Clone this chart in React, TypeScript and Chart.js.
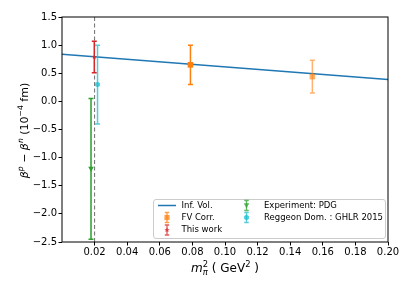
import React, { useEffect, useRef } from 'react';
import { Chart, registerables } from 'chart.js';

Chart.register(...registerables);

// ---------- data ----------
const infX = [0, 0.2];
const infY = [0.84, 0.39];

const fvX = [0.0788, 0.1536];
const fvY = [0.65, 0.44];
const fvErr = [0.35, 0.29];

const workX = [0.0198];
const workY = [0.79];
const workErr = [0.28];

const pdgX = [0.0178];
const pdgY = [-1.2];
const pdgErr = [1.25];

const ghlrX = [0.0218];
const ghlrY = [0.3];
const ghlrErr = [0.7];

const physX = 0.02;

const xTickValues = [0.02, 0.04, 0.06, 0.08, 0.1, 0.12, 0.14, 0.16, 0.18, 0.2];
const yTickValues = [-2.5, -2.0, -1.5, -1.0, -0.5, 0.0, 0.5, 1.0, 1.5];

const legendLabels = ['Inf. Vol.', 'FV Corr.', 'This work', 'Experiment: PDG', 'Reggeon Dom. : GHLR 2015'];

const BLUE = '#1f77b4';
const ORANGE = '#ff7f0e';
const GREEN = '#2ca02c';
const RED = '#d62728';
const CYAN = '#17becf';
const FONT = '"DejaVu Sans", sans-serif';

type Run = { t?: string; it?: boolean; small?: boolean; dy?: number; sup?: string; sub?: string };

function runWidth(ctx: CanvasRenderingContext2D, r: Run, size: number) {
  if (r.sup !== undefined || r.sub !== undefined) {
    ctx.font = `${size * 0.7}px ${FONT}`;
    return Math.max(ctx.measureText(r.sup || '').width, ctx.measureText(r.sub || '').width);
  }
  ctx.font = `${r.it ? 'italic ' : ''}${r.small ? size * 0.7 : size}px ${FONT}`;
  return ctx.measureText(r.t || '').width;
}

function drawRuns(ctx: CanvasRenderingContext2D, runs: Run[], cx: number, y: number, size: number) {
  let total = 0;
  for (const r of runs) total += runWidth(ctx, r, size);
  let x = cx - total / 2;
  ctx.textAlign = 'left';
  ctx.textBaseline = 'alphabetic';
  for (const r of runs) {
    const w = runWidth(ctx, r, size);
    if (r.sup !== undefined || r.sub !== undefined) {
      ctx.font = `${size * 0.7}px ${FONT}`;
      if (r.sup) ctx.fillText(r.sup, x, y - size * 0.42);
      if (r.sub) {
        ctx.font = `italic ${size * 0.7}px ${FONT}`;
        ctx.fillText(r.sub, x, y + size * 0.28);
      }
    } else {
      ctx.font = `${r.it ? 'italic ' : ''}${r.small ? size * 0.7 : size}px ${FONT}`;
      ctx.fillText(r.t || '', x, y + (r.dy || 0) * size);
    }
    x += w;
  }
}

function marker(ctx: CanvasRenderingContext2D, kind: string, x: number, y: number, r: number, color: string) {
  ctx.save();
  ctx.fillStyle = color;
  ctx.strokeStyle = color;
  ctx.beginPath();
  if (kind === 'square') {
    ctx.rect(x - r, y - r, 2 * r, 2 * r);
    ctx.fill();
  } else if (kind === 'tridown') {
    ctx.moveTo(x - r, y - r * 0.8);
    ctx.lineTo(x + r, y - r * 0.8);
    ctx.lineTo(x, y + r);
    ctx.closePath();
    ctx.fill();
  } else if (kind === 'hex') {
    for (let i = 0; i < 6; i++) {
      const a = Math.PI / 6 + (i * Math.PI) / 3;
      const px = x + r * Math.cos(a);
      const py = y + r * Math.sin(a);
      if (i === 0) ctx.moveTo(px, py);
      else ctx.lineTo(px, py);
    }
    ctx.closePath();
    ctx.fill();
  } else {
    for (let i = 0; i < 10; i++) {
      const a = -Math.PI / 2 + (i * Math.PI) / 5;
      const rr = i % 2 === 0 ? r : r * 0.45;
      const px = x + rr * Math.cos(a);
      const py = y + rr * Math.sin(a);
      if (i === 0) ctx.moveTo(px, py);
      else ctx.lineTo(px, py);
    }
    ctx.closePath();
    ctx.fill();
  }
  ctx.restore();
}

function errHandle(ctx: CanvasRenderingContext2D, x: number, y: number, color: string, kind: string) {
  ctx.save();
  ctx.globalAlpha = 0.75;
  ctx.strokeStyle = color;
  ctx.lineWidth = 1.3;
  ctx.beginPath();
  ctx.moveTo(x, y - 5);
  ctx.lineTo(x, y + 5);
  ctx.moveTo(x - 2.2, y - 5);
  ctx.lineTo(x + 2.2, y - 5);
  ctx.moveTo(x - 2.2, y + 5);
  ctx.lineTo(x + 2.2, y + 5);
  ctx.stroke();
  marker(ctx, kind, x, y, kind === 'square' ? 2.6 : 2.8, color);
  ctx.restore();
}

const errorBarPlugin = {
  id: 'errorBars',
  beforeDatasetsDraw(chart: any) {
    const ctx = chart.ctx as CanvasRenderingContext2D;
    const xs = chart.scales.x;
    const area = chart.chartArea;
    ctx.save();
    ctx.strokeStyle = '#6e6e6e';
    ctx.lineWidth = 1;
    ctx.setLineDash([4, 2.5]);
    const px = xs.getPixelForValue(physX);
    ctx.beginPath();
    ctx.moveTo(px, area.top);
    ctx.lineTo(px, area.bottom);
    ctx.stroke();
    ctx.restore();
  },
  afterDatasetsDraw(chart: any) {
    const ctx = chart.ctx as CanvasRenderingContext2D;
    const ys = chart.scales.y;
    chart.data.datasets.forEach((ds: any, di: number) => {
      if (!ds.errs) return;
      const meta = chart.getDatasetMeta(di);
      meta.data.forEach((pt: any, i: number) => {
        const v = ds.data[i].y;
        const e = ds.errs[i];
        const y1 = ys.getPixelForValue(v + e);
        const y2 = ys.getPixelForValue(v - e);
        ctx.save();
        ctx.globalAlpha = ds.barAlpha ? ds.barAlpha[i] : 1;
        ctx.strokeStyle = ds.barColor;
        ctx.lineWidth = 1.5;
        ctx.beginPath();
        ctx.moveTo(pt.x, y1);
        ctx.lineTo(pt.x, y2);
        ctx.moveTo(pt.x - 2.5, y1);
        ctx.lineTo(pt.x + 2.5, y1);
        ctx.moveTo(pt.x - 2.5, y2);
        ctx.lineTo(pt.x + 2.5, y2);
        ctx.stroke();
        marker(ctx, ds.markerKind, pt.x, pt.y, ds.markerSize, ds.barColor);
        ctx.restore();
      });
    });
  },
  afterDraw(chart: any) {
    const ctx = chart.ctx as CanvasRenderingContext2D;
    const a = chart.chartArea;
    ctx.save();
    ctx.strokeStyle = '#000';
    ctx.lineWidth = 1;
    ctx.strokeRect(a.left, a.top, a.right - a.left, a.bottom - a.top);
    ctx.restore();

    ctx.save();
    ctx.fillStyle = '#000';
    drawRuns(
      ctx,
      [{ t: 'm', it: true }, { sup: '2', sub: 'π' }, { t: ' ( GeV' }, { t: '2', small: true, dy: -0.42 }, { t: ' )' }],
      (a.left + a.right) / 2,
      272,
      12
    );
    ctx.translate(28, (a.top + a.bottom) / 2 + 1);
    ctx.rotate(-Math.PI / 2);
    drawRuns(
      ctx,
      [
        { t: 'β', it: true },
        { t: 'p', it: true, small: true, dy: -0.42 },
        { t: ' − ' },
        { t: 'β', it: true },
        { t: 'n', it: true, small: true, dy: -0.42 },
        { t: ' (10' },
        { t: '−4', small: true, dy: -0.42 },
        { t: ' fm)' },
      ],
      0,
      0,
      11
    );
    ctx.restore();

    ctx.save();
    const lx = 153, ly = 199, lw = 232, lh = 39;
    ctx.fillStyle = 'rgba(255,255,255,0.85)';
    ctx.strokeStyle = '#cccccc';
    ctx.lineWidth = 1;
    ctx.beginPath();
    (ctx as any).roundRect(lx + 0.5, ly + 0.5, lw, lh, 2.5);
    ctx.fill();
    ctx.stroke();
    const rows = [205.5, 217.5, 230];
    ctx.strokeStyle = BLUE;
    ctx.lineWidth = 1.5;
    ctx.beginPath();
    ctx.moveTo(158, rows[0]);
    ctx.lineTo(176, rows[0]);
    ctx.stroke();
    errHandle(ctx, 167, rows[1], ORANGE, 'square');
    errHandle(ctx, 167, rows[2], RED, 'star');
    errHandle(ctx, 246.5, rows[0], GREEN, 'tridown');
    errHandle(ctx, 246.5, rows[1], CYAN, 'hex');
    ctx.font = `8.5px ${FONT}`;
    ctx.fillStyle = '#000';
    ctx.textBaseline = 'middle';
    ctx.textAlign = 'left';
    ctx.fillText(legendLabels[0], 181.5, rows[0]);
    ctx.fillText(legendLabels[1], 181.5, rows[1]);
    ctx.fillText(legendLabels[2], 181.5, rows[2]);
    ctx.fillText(legendLabels[3], 264, rows[0]);
    ctx.fillText(legendLabels[4], 264, rows[1]);
    ctx.restore();
  },
};

const pts = (xs: number[], ys: number[]) => xs.map((x, i) => ({ x, y: ys[i] }));

export default function App() {
  const ref = useRef<HTMLCanvasElement | null>(null);
  useEffect(() => {
    if (!ref.current) return;
    const chart = new Chart(ref.current, {
      type: 'scatter',
      data: {
        datasets: [
          {
            type: 'line',
            label: legendLabels[0],
            data: pts(infX, infY),
            borderColor: BLUE,
            borderWidth: 1.5,
            pointRadius: 0,
            fill: false,
          } as any,
          {
            label: legendLabels[1],
            data: pts(fvX, fvY),
            errs: fvErr,
            barColor: ORANGE,
            barAlpha: [1, 0.6],
            markerKind: 'square',
            markerSize: 2.8,
            pointRadius: 0,
          } as any,
          {
            label: legendLabels[2],
            data: pts(workX, workY),
            errs: workErr,
            barColor: RED,
            markerKind: 'star',
            markerSize: 2.6,
            pointRadius: 0,
          } as any,
          {
            label: legendLabels[3],
            data: pts(pdgX, pdgY),
            errs: pdgErr,
            barColor: GREEN,
            markerKind: 'tridown',
            markerSize: 2.8,
            pointRadius: 0,
          } as any,
          {
            label: legendLabels[4],
            data: pts(ghlrX, ghlrY),
            errs: ghlrErr,
            barColor: CYAN,
            barAlpha: [0.75],
            markerKind: 'hex',
            markerSize: 2.8,
            pointRadius: 0,
          } as any,
        ],
      },
      options: {
        responsive: false,
        animation: false,
        events: [],
        layout: { padding: { left: 0, right: 27, top: 17, bottom: 0 } },
        plugins: { legend: { display: false }, tooltip: { enabled: false } },
        scales: {
          x: {
            type: 'linear',
            min: 0,
            max: 0.2,
            afterBuildTicks: (s: any) => {
              s.ticks = xTickValues.map((v) => ({ value: v }));
            },
            afterFit: (s: any) => {
              s.height = 48;
            },
            grid: { drawOnChartArea: false, drawTicks: true, tickLength: 3.5, color: '#000', lineWidth: 1 },
            border: { display: false },
            ticks: {
              font: { family: FONT, size: 10 },
              color: '#000',
              padding: 1,
              maxRotation: 0,
              autoSkip: false,
              callback: (v: any) => Number(v).toFixed(2),
            },
          },
          y: {
            type: 'linear',
            min: -2.5,
            max: 1.5,
            afterBuildTicks: (s: any) => {
              s.ticks = yTickValues.map((v) => ({ value: v }));
            },
            afterFit: (s: any) => {
              s.width = 62;
            },
            grid: { drawOnChartArea: false, drawTicks: true, tickLength: 3.5, color: '#000', lineWidth: 1 },
            border: { display: false },
            ticks: {
              font: { family: FONT, size: 10 },
              color: '#000',
              padding: 1.5,
              autoSkip: false,
              callback: (v: any) => (Number(v) < 0 ? '−' : '') + Math.abs(Number(v)).toFixed(1),
            },
          },
        },
      },
      plugins: [errorBarPlugin],
    } as any);
    return () => chart.destroy();
  }, []);
  return (
    <div style={{ position: 'fixed', left: 0, top: 0, width: 415, height: 290, background: '#fff' }}>
      <canvas ref={ref} width={415} height={290} style={{ display: 'block', width: 415, height: 290 }} />
    </div>
  );
}
